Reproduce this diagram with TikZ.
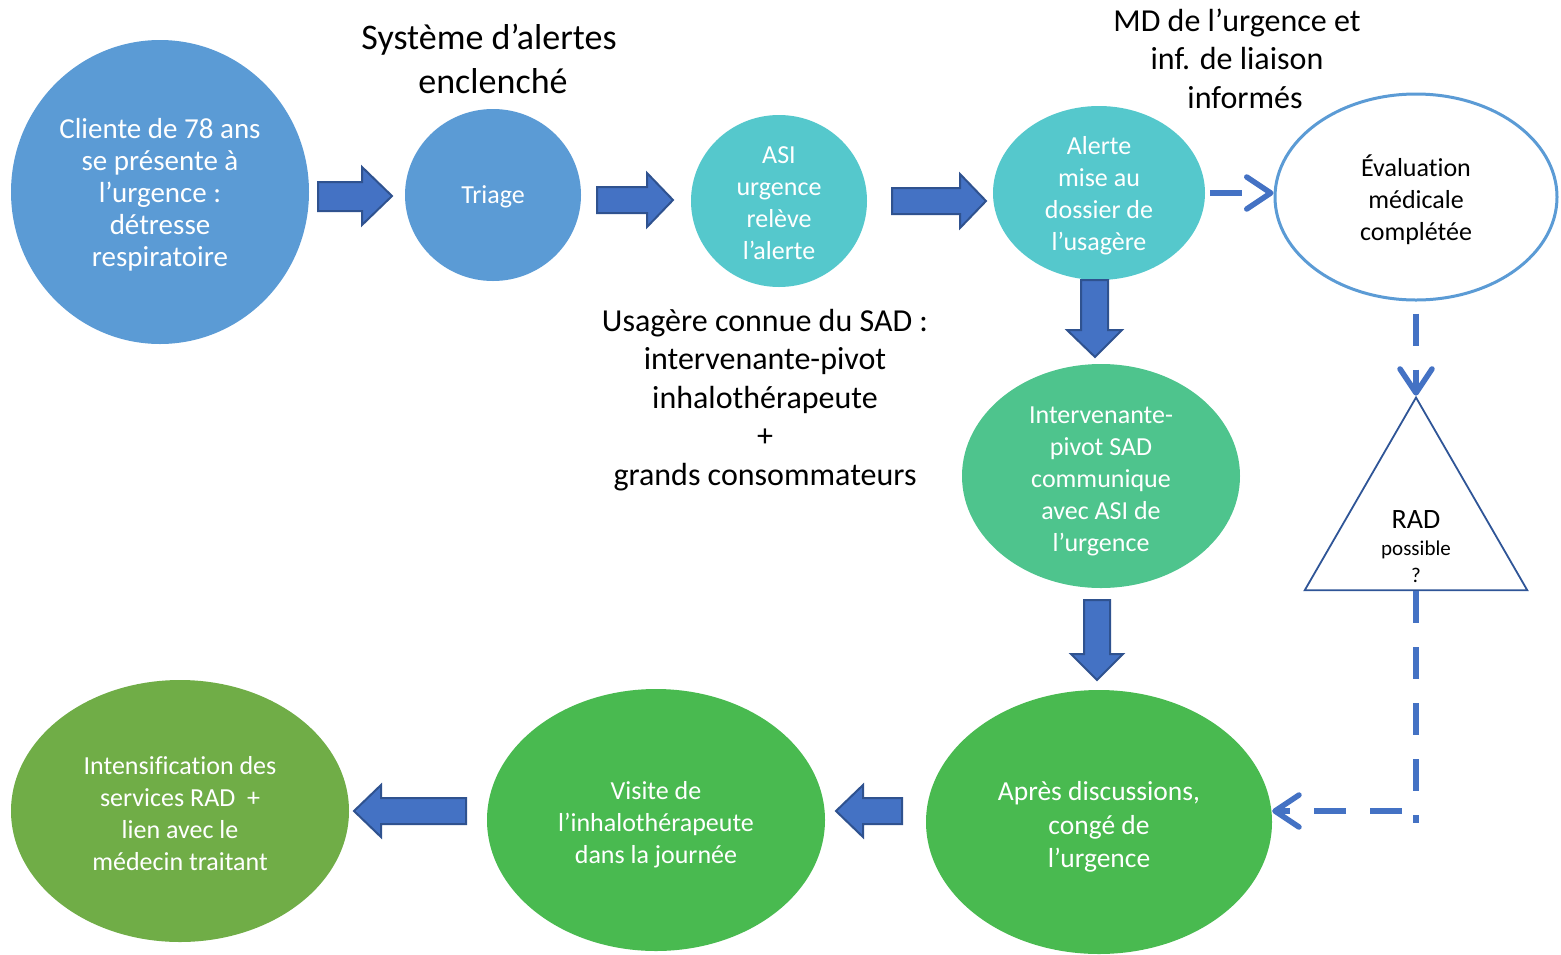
\documentclass[tikz,border=0pt]{standalone}
\usepackage{fontspec}
\setmainfont{Carlito}[Ligatures={NoCommon}]
\usetikzlibrary{shapes.geometric,arrows.meta}
\definecolor{cblue}{HTML}{5B9BD5}
\definecolor{cteal}{HTML}{55C8CC}
\definecolor{cmint}{HTML}{4EC48D}
\definecolor{cgreen}{HTML}{49BA50}
\definecolor{colive}{HTML}{70AD47}
\definecolor{afill}{HTML}{4472C4}
\definecolor{aedge}{HTML}{2F528F}
\definecolor{tedge}{HTML}{2F5597}
\begin{document}
\begin{tikzpicture}[x=1pt,y=-1pt,
  bub/.style={ellipse, inner sep=0pt},
  btxt/.style={align=center, text=white, inner sep=0pt, font=\fontsize{26}{32}\selectfont},
  blockarrow/.style={fill=afill, draw=aedge, line width=2pt},
  dashconn/.style={draw=afill, line width=5.5pt, dash pattern=on 32pt off 24pt},
  chev/.style={-{Straight Barb[length=24pt,width=32pt,round]}},
  title/.style={align=center, text=black, font=\fontsize{32}{38.5}\selectfont}
]
\useasboundingbox (0,0) rectangle (1561,954);

% bubbles
\node[bub, fill=cblue, minimum width=298pt, minimum height=304pt,
  label={[btxt, name=clientt, yshift=-3pt, font=\fontsize{29}{32}\selectfont]center:{Cliente de 78 ans\\se présente à\\l’urgence :\\détresse\\respiratoire}}] (client) at (160,192) {};
\node[bub, fill=cblue, minimum width=176pt, minimum height=172pt,
  label={[btxt, name=triaget, yshift=-2pt]center:{Triage}}] (triage) at (493,195) {};
\node[bub, fill=cteal, minimum width=176pt, minimum height=172pt,
  label={[btxt, name=asit, yshift=-2.5pt]center:{ASI\\urgence\\relève\\l’alerte}}] (asi) at (779,201) {};
\node[bub, fill=cteal, minimum width=212pt, minimum height=174pt,
  label={[btxt, name=alertet, yshift=-3pt]center:{Alerte\\mise au\\dossier de\\l’usagère}}] (alerte) at (1099,193) {};
\node[bub, fill=white, draw=cblue, line width=3pt, minimum width=282pt, minimum height=206pt,
  label={[btxt, name=evalt, text=black, yshift=-2.5pt]center:{Évaluation\\médicale\\complétée}}] (eval) at (1416,197) {};
\node[bub, fill=cmint, minimum width=278pt, minimum height=224pt,
  label={[btxt, name=intervt, yshift=-5pt]center:{Intervenante-\\pivot SAD\\communique\\avec ASI de\\l’urgence}}] (interv) at (1101,476) {};
\node[bub, fill=cgreen, minimum width=346pt, minimum height=264pt,
  label={[btxt, name=aprest, yshift=-5pt, font=\fontsize{27.5}{33.5}\selectfont]center:{Après discussions,\\congé de\\l’urgence}}] (apres) at (1099,822) {};
\node[bub, fill=cgreen, minimum width=338pt, minimum height=262pt,
  label={[btxt, name=visitet, yshift=-5pt]center:{Visite de\\l’inhalothérapeute\\dans la journée}}] (visite) at (656,820) {};
\node[bub, fill=colive, minimum width=338pt, minimum height=262pt,
  label={[btxt, name=intenst, yshift=-3pt]center:{Intensification des\\services RAD\ \ +\\lien avec le\\médecin traitant}}] (intens) at (180,811) {};

% headings
\node[title, font=\fontsize{36}{44}\selectfont] (sys) at (489,59) {Système d’alertes\\\hspace*{8pt}enclenché};
\node[title] (md) at (1237,58.5) {MD de l’urgence et\\inf. de liaison\\\hspace*{16pt}informés};
\node[title] (sad) at (765,400) {Usagère connue du SAD :\\intervenante-pivot\\inhalothérapeute\\+\\grands consommateurs};

% block arrows
\draw[blockarrow] (318,182) -- (362,182) -- (362,167) -- (392,196) -- (362,225) -- (362,211) -- (318,211) -- cycle;
\draw[blockarrow] (597,187) -- (647,187) -- (647,173) -- (673,200) -- (647,227) -- (647,213) -- (597,213) -- cycle;
\draw[blockarrow] (892,188) -- (960,188) -- (960,174) -- (986,201) -- (960,228) -- (960,214) -- (892,214) -- cycle;
\draw[blockarrow] (1081,280) -- (1108,280) -- (1108,330) -- (1122,330) -- (1095,357) -- (1067,330) -- (1081,330) -- cycle;
\draw[blockarrow] (1084,600) -- (1110,600) -- (1110,654) -- (1123,654) -- (1097,680) -- (1071,654) -- (1084,654) -- cycle;
\draw[blockarrow] (902,798) -- (863,798) -- (863,785) -- (836,811) -- (863,837) -- (863,824) -- (902,824) -- cycle;
\draw[blockarrow] (466,798) -- (381,798) -- (381,785) -- (354,811) -- (381,837) -- (381,824) -- (466,824) -- cycle;

% decision triangle
\node[regular polygon, regular polygon sides=3, draw=tedge, line width=1.8pt, fill=white, minimum size=257pt, inner sep=0pt] (rad) at (1416,526) {};
\node[align=center, font=\fontsize{21}{27}\selectfont] (radtxt) at (1416,546.5) {{\fontsize{28}{28}\selectfont RAD}\\possible\\?};

% dashed connectors
\draw[dashconn, chev] ([xshift=5pt]alerte.east) -- (eval.west |- alerte.east);
\draw[dashconn, chev] ([yshift=-12pt]eval.south) -- (rad.north);
\coordinate (bend) at (1416,823);
\coordinate (hstart) at (1402,811);
\draw[dashconn] (rad.south) -- (bend);
\draw[dashconn, chev] (hstart) -- (apres.east |- hstart);
\end{tikzpicture}
\end{document}
